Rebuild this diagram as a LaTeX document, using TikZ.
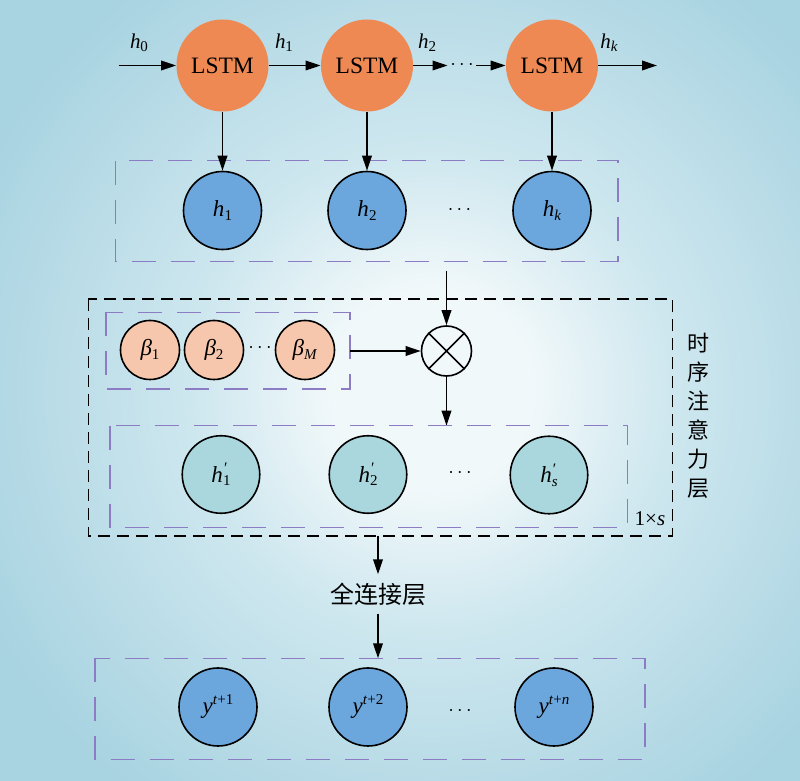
\documentclass[tikz,border=0pt]{standalone}
\usepackage{fontspec}
\setmainfont{Liberation Serif}
\newfontfamily\cjk{Noto Sans CJK SC}
\usetikzlibrary{arrows.meta,calc}
\definecolor{bgc}{RGB}{241,248,250}
\definecolor{bgm}{RGB}{206,231,239}
\definecolor{bge}{RGB}{168,211,225}
\definecolor{lstmc}{RGB}{238,137,83}
\definecolor{bluec}{RGB}{107,166,221}
\definecolor{betac}{RGB}{246,199,172}
\definecolor{tealc}{RGB}{170,215,221}
\definecolor{purp}{RGB}{140,124,196}
\pgfdeclareradialshading{bgshade}{\pgfpoint{0bp}{0bp}}{color(0bp)=(bgc); color(5bp)=(bgc); color(12bp)=(bgm); color(25bp)=(bge); color(50bp)=(bge)}
\newcommand{\mysub}[2]{#1\raisebox{-0.32ex}{\fontsize{7.5}{7}\selectfont #2}}
\newcommand{\hpr}[1]{\textit{h}\rlap{\raisebox{0.8ex}{\fontsize{8}{7}\selectfont\textit{′}}}\raisebox{-0.32ex}{\fontsize{7.5}{7}\selectfont #1}}
\newcommand{\ysup}[1]{\textit{y}\raisebox{0.85ex}{\fontsize{7.5}{7}\selectfont #1}}
\begin{document}
\begin{tikzpicture}[x=0.5pt,y=-0.5pt,
  arr/.style={-{Triangle[length=7.5pt,width=4.8pt]}, line width=0.8pt},
  lstm/.style={circle, fill=lstmc, minimum size=46pt, inner sep=0pt, font=\fontsize{11.75}{12}\selectfont},
  hnode/.style={circle, draw, line width=0.8pt, fill=bluec, minimum size=39pt, inner sep=0pt, font=\fontsize{11.5}{12}\selectfont},
  bnode/.style={circle, draw, line width=0.8pt, fill=betac, minimum size=29.5pt, inner sep=0pt, font=\fontsize{11.5}{12}\selectfont},
  pnode/.style={circle, draw, line width=0.8pt, fill=tealc, minimum size=38.75pt, inner sep=0pt, font=\fontsize{11.5}{12}\selectfont},
  ynode/.style={circle, draw, line width=0.8pt, fill=bluec, minimum size=39pt, inner sep=0pt, font=\fontsize{11.5}{12}\selectfont},
  pbox/.style={draw=purp, line width=0.75pt, dash pattern=on 12pt off 7.5pt},
  kbox/.style={draw=black, line width=0.75pt, dash pattern=on 6pt off 3.5pt},
  lab/.style={font=\fontsize{10.5}{11}\selectfont, inner sep=0pt},
  dotsn/.style={inner sep=0pt, font=\fontsize{10}{10}\selectfont}
]
\useasboundingbox (0,0) rectangle (800,781);
\begin{scope}
  \clip (0,0) rectangle (800,781);
  \fill[bge] (0,0) rectangle (800,781);
  \shade[shading=bgshade] (432,390) circle (500);
\end{scope}

% LSTM chain
\node[lstm] (L1) at (222.5,65.5) {LSTM};
\node[lstm] (L2) at (367,65.5) {LSTM};
\node[lstm] (L3) at (552,65.5) {LSTM};
\node[dotsn, minimum width=14pt] (d1) at (462,65.5) {$\cdots$};
\coordinate (in) at (118.6,65.5);
\coordinate (out) at (657,65.5);
\node[lab] (lh0) at (139,43) {\mysub{\textit{h}}{0}};
\node[lab] (lh1) at (284,43) {\mysub{\textit{h}}{1}};
\node[lab] (lh2) at (427,43) {\mysub{\textit{h}}{2}};
\node[lab] (lhk) at (609,43) {\mysub{\textit{h}}{\textit{k}}};
\draw[arr] (in) -- (L1);
\draw[arr] (L1) -- (L2);
\draw[arr] (L2) -- (d1.west);
\draw[arr] (d1.east) -- (L3);
\draw[arr] (L3) -- (out);

% hidden states
\draw[pbox] (115.5,160.7) rectangle (618,261.7);
\node[hnode] (H1) at (222.5,210.5) {\mysub{\textit{h}}{1}};
\node[hnode] (H2) at (367,210.5) {\mysub{\textit{h}}{2}};
\node[hnode] (Hk) at (552,210.5) {\mysub{\textit{h}}{\textit{k}}};
\node[dotsn] (d2) at (459.5,210.5) {$\cdots$};
\draw[arr] (L1) -- (H1);
\draw[arr] (L2) -- (H2);
\draw[arr] (L3) -- (Hk);

% attention layer
\draw[kbox] (88.3,299) rectangle (672.7,536);
\draw[pbox] (106,312.3) rectangle (350,389);
\node[bnode] (B1) at (150,350) {\mysub{\textit{β}}{1}};
\node[bnode] (B2) at (214,350) {\mysub{\textit{β}}{2}};
\node[bnode] (BM) at (305,350) {\mysub{\textit{β}}{\textit{M}}};
\node[dotsn] (d3) at (260,348) {$\cdots$};
\node[circle, draw, line width=0.8pt, minimum size=25pt, inner sep=0pt] (O) at (446.5,351) {};
\draw[line width=0.8pt] (O.45) -- (O.225) (O.135) -- (O.315);
\coordinate (s1) at (446.5,271);
\coordinate (be) at (350,351);
\coordinate (pt) at (446.5,425.7);
\draw[arr] (s1) -- (O);
\draw[arr] (be) -- (O);
\draw[arr] (O) -- (pt);

\draw[pbox] (110,425.7) rectangle (627.7,527.3);
\node[pnode] (P1) at (221,474.5) {\hpr{1}};
\node[pnode] (P2) at (368,474.5) {\hpr{2}};
\node[pnode] (Ps) at (549,475) {\hpr{\textit{s}}};
\node[dotsn] (d4) at (460,473) {$\cdots$};
\node[inner sep=0pt, font=\fontsize{10.5}{12}\selectfont] (dim) at (650,519) {1×\textit{s}};
\node[inner sep=0pt, align=center, font=\cjk\fontsize{11}{14.5}\selectfont] (att) at (698,415.5) {时\\序\\注\\意\\力\\层};

% fully connected + outputs
\coordinate (kb) at (378,536);
\node[inner xsep=0pt, inner ysep=4pt, font=\cjk\fontsize{12}{14}\selectfont] (fc) at (378,594) {全连接层};
\coordinate (yb) at (378,658.3);
\draw[arr] (kb) -- (fc);
\draw[arr] (fc) -- (yb);
\draw[pbox] (94.8,658.3) rectangle (645,759.3);
\node[ynode] (Y1) at (218,707) {\ysup{\textit{t}+1}};
\node[ynode] (Y2) at (368,707) {\ysup{\textit{t}+2}};
\node[ynode] (Yn) at (554,707) {\ysup{\textit{t}+\textit{n}}};
\node[dotsn] (d5) at (460,711) {$\cdots$};
\end{tikzpicture}
\end{document}
